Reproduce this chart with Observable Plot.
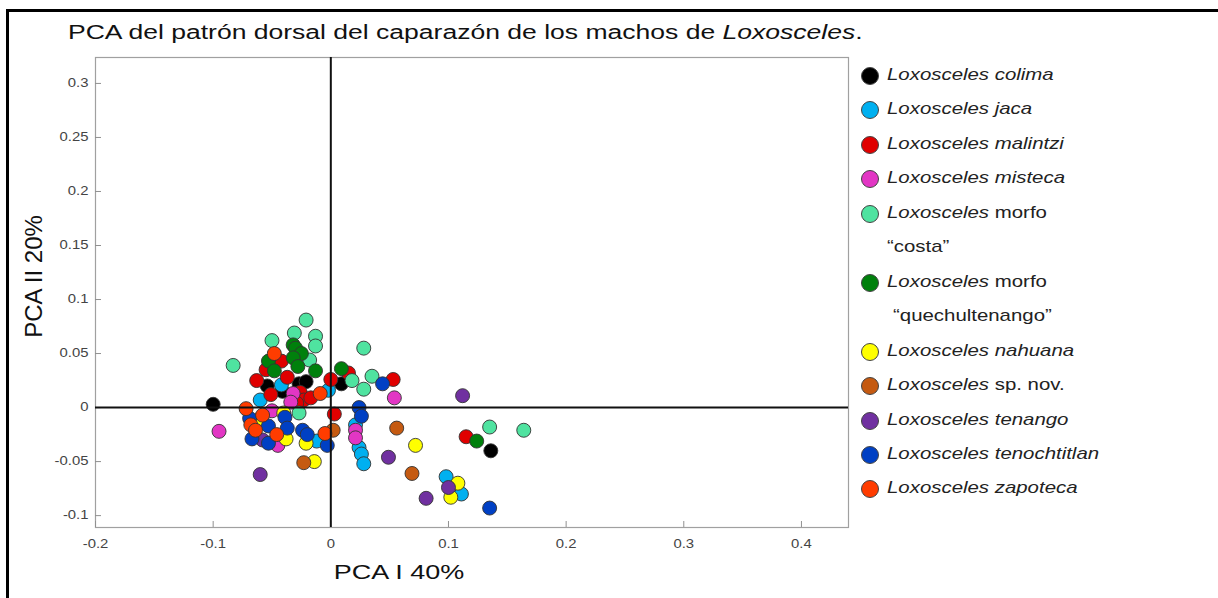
<!DOCTYPE html>
<html>
<head>
<meta charset="utf-8">
<script src="https://cdn.jsdelivr.net/npm/d3@7"></script>
<script src="https://cdn.jsdelivr.net/npm/@observablehq/plot@0.6"></script>
<style>
  body { margin: 0; background: #fff; font-family: "Liberation Sans", Arial, sans-serif; }
  #page { position: relative; width: 1218px; height: 598px; overflow: hidden; background: #fff; }
  #border { position: absolute; left: 6px; top: 9px; width: 1400px; height: 800px; border-left: 3px solid #000; border-top: 3px solid #000; pointer-events: none; }
  #titlebox { position: relative; height: 50px; }
  #title { position: absolute; left: 68px; top: 21px; font-size: 19.5px; white-space: nowrap; color: #111; transform: scaleX(1.36); transform-origin: 0 0; }
  #chart svg { display: block; }
  #legend { position: absolute; left: 0; top: 0; }
  .sw { position: absolute; width: 18px; height: 18px; border-radius: 50%; border: 1px solid #444; box-sizing: border-box; }
  .lt { position: absolute; font-size: 17px; color: #222; transform: scaleX(1.2); transform-origin: 0 50%; white-space: nowrap; }
</style>
</head>
<body>
<div id="page">
  <div id="titlebox"><div id="title">PCA del patrón dorsal del caparazón de los machos de <i>Loxosceles</i>.</div></div>
  <div id="chart"></div>
  <div id="legend"></div>
  <div id="border"></div>
</div>
<script>
// ---- data ----
const species = ["colima","jaca","malintzi","misteca","costa","quechultenango","nahuana","spnov","tenango","tenochtitlan","zapoteca"];
const colors = ["#000000","#00b0f0","#e00000","#e236c4","#4fe3a0","#00800c","#ffff00","#c55a11","#7030a0","#0040c4","#ff3c00"];

const legendItalic = ["Loxosceles colima","Loxosceles jaca","Loxosceles malintzi","Loxosceles misteca","Loxosceles","Loxosceles","Loxosceles nahuana","Loxosceles","Loxosceles tenango","Loxosceles tenochtitlan","Loxosceles zapoteca"];
const legendPlain = ["","","",""," morfo"," morfo",""," sp. nov.","","",""];
const legendSecond = ["","","","","“costa”","“quechultenango”","","","","",""];

const colimaX = [-0.100,-0.054,-0.041,-0.027,-0.021,0.009,0.136];
const colimaY = [0.003,0.020,0.015,0.022,0.024,0.022,-0.040];
const jacaX = [-0.042,-0.060,-0.002,-0.012,0.021,0.024,0.026,0.028,0.098,0.111];
const jacaY = [0.021,0.007,0.016,-0.031,-0.016,-0.037,-0.043,-0.052,-0.064,-0.080];
const malintziX = [-0.042,-0.063,-0.051,-0.037,-0.026,-0.023,-0.017,-0.029,0.000,0.003,0.015,0.053,0.115,-0.055];
const malintziY = [0.043,0.025,0.012,0.028,0.014,0.007,0.009,0.004,0.026,-0.006,0.032,0.026,-0.027,0.035];
const mistecaX = [-0.095,-0.032,-0.034,-0.050,-0.045,0.021,0.021,0.054];
const mistecaY = [-0.022,0.013,0.005,-0.003,-0.035,-0.021,-0.028,0.009];
const costaX = [-0.021,-0.031,-0.013,-0.013,-0.050,-0.083,-0.018,0.028,0.035,0.018,0.028,-0.027,0.135,0.164];
const costaY = [0.081,0.069,0.066,0.057,0.062,0.039,0.044,0.055,0.029,0.025,0.017,-0.005,-0.018,-0.021];
const quechX = [-0.032,-0.030,-0.025,-0.032,-0.053,-0.048,-0.028,-0.013,0.009,0.124];
const quechY = [0.058,0.055,0.050,0.046,0.043,0.034,0.038,0.034,0.036,-0.031];
const nahuanaX = [-0.040,-0.060,-0.038,-0.021,-0.014,0.072,0.108,0.102];
const nahuanaY = [-0.005,-0.010,-0.029,-0.033,-0.050,-0.035,-0.070,-0.083];
const spnovX = [-0.023,0.002,0.056,0.069];
const spnovY = [-0.051,-0.021,-0.019,-0.061];
const tenangoX = [-0.060,-0.058,0.112,0.049,0.081,0.100];
const tenangoY = [-0.062,-0.030,0.011,-0.046,-0.084,-0.074];
const tenochX = [-0.069,-0.053,-0.039,-0.037,-0.024,-0.020,-0.067,-0.053,-0.003,0.024,0.026,0.044,0.135];
const tenochY = [-0.010,-0.017,-0.009,-0.019,-0.021,-0.025,-0.029,-0.033,-0.035,0.000,-0.008,0.022,-0.093];
const zapotecaX = [-0.048,-0.072,-0.058,-0.068,-0.064,-0.046,-0.009,-0.005];
const zapotecaY = [0.050,-0.001,-0.007,-0.016,-0.021,-0.025,0.013,-0.024];

const xTicks = [-0.2,-0.1,0,0.1,0.2,0.3,0.4];
const yTicks = [-0.1,-0.05,0,0.05,0.1,0.15,0.2,0.25,0.3];
const xDomain = [-0.2, 0.44];
const yDomain = [-0.111, 0.324];
const xLabel = "PCA I 40%";
const yLabel = "PCA II 20%";

// ---- build table ----
const seriesX = [colimaX,jacaX,malintziX,mistecaX,costaX,quechX,nahuanaX,spnovX,tenangoX,tenochX,zapotecaX];
const seriesY = [colimaY,jacaY,malintziY,mistecaY,costaY,quechY,nahuanaY,spnovY,tenangoY,tenochY,zapotecaY];
const rows = [];
species.forEach((sp, i) => seriesX[i].forEach((x, j) => rows.push({sp, x, y: seriesY[i][j]})));

const fmt = d => d === 0 ? "0" : String(d);

const svg = Plot.plot({
  width: 860,
  height: 548,
  marginTop: 7,
  marginBottom: 71,
  marginLeft: 95,
  marginRight: 12,
  style: {background: "#fff", fontFamily: "'Liberation Sans', Arial, sans-serif"},
  x: {domain: xDomain},
  y: {domain: yDomain},
  color: {domain: species, range: colors},
  marks: [
    Plot.frame({stroke: "#a0a0a0", strokeWidth: 1.2}),
    Plot.axisX({ticks: xTicks, tickSize: 6, dy: -6, tickFormat: () => "", stroke: "#909090", label: null}),
    Plot.axisY({ticks: yTicks, tickSize: 6, dx: 6, tickFormat: () => "", stroke: "#909090", label: null}),
    Plot.axisX({ticks: xTicks, tickSize: 0, tickPadding: 12, tickFormat: fmt, fontSize: 12, fill: "#444", label: null}),
    Plot.axisY({ticks: yTicks, tickSize: 0, tickPadding: 7, tickFormat: fmt, fontSize: 12, fill: "#444", label: null}),
    Plot.dot(rows, {x: "x", y: "y", fill: "sp", r: 7, stroke: "#333", strokeWidth: 0.9}),
    Plot.ruleX([0], {stroke: "#111", strokeWidth: 2}),
    Plot.ruleY([0], {stroke: "#111", strokeWidth: 2}),
    Plot.text([xLabel], {frameAnchor: "bottom", dx: -73, dy: 45, lineAnchor: "middle", textAnchor: "middle", fontSize: 20, fill: "#111"}),
    Plot.text([yLabel], {frameAnchor: "left", rotate: -90, dx: -61, dy: -16, lineAnchor: "middle", textAnchor: "middle", fontSize: 24, fill: "#111"})
  ]
});

// widen text horizontally to match the reference's proportions
function stretchText(node, k) {
  const t = node.getAttribute("transform") || "";
  const xa = node.getAttribute("x");
  let pre = "";
  if (xa != null && /^-?[\d.]+$/.test(xa.trim()) && +xa !== 0) {
    pre = ` translate(${+xa},0)`;
    node.setAttribute("x", "0");
  }
  node.setAttribute("transform", `${t}${pre} scale(${k},1)`.trim());
}
d3.select(svg).selectAll("text").each(function () {
  const s = this.textContent;
  if (s === yLabel || s === "") return;
  if (s === xLabel) stretchText(this, 1.35);
  else stretchText(this, 1.24);
});

document.getElementById("chart").appendChild(svg);

// ---- legend (HTML) ----
const legend = document.getElementById("legend");
const lineStart = 76, lineStep = 34.45;
let line = 0;
species.forEach((sp, i) => {
  const cy = lineStart + line * lineStep;
  const sw = document.createElement("div");
  sw.className = "sw";
  sw.style.background = colors[i];
  sw.style.left = (870 - 9) + "px";
  sw.style.top = (cy - 9) + "px";
  legend.appendChild(sw);
  const t = document.createElement("div");
  t.className = "lt";
  t.style.left = "887px";
  t.style.top = (cy - 11) + "px";
  const it = document.createElement("i");
  it.textContent = legendItalic[i];
  t.appendChild(it);
  if (legendPlain[i]) t.appendChild(document.createTextNode(legendPlain[i]));
  legend.appendChild(t);
  line++;
  if (legendSecond[i]) {
    const cy2 = lineStart + line * lineStep;
    const t2 = document.createElement("div");
    t2.className = "lt";
    t2.style.left = (887 + (sp === "quechultenango" ? 6 : 0)) + "px";
    t2.style.top = (cy2 - 11) + "px";
    t2.textContent = legendSecond[i];
    legend.appendChild(t2);
    line++;
  }
});
</script>
</body>
</html>
